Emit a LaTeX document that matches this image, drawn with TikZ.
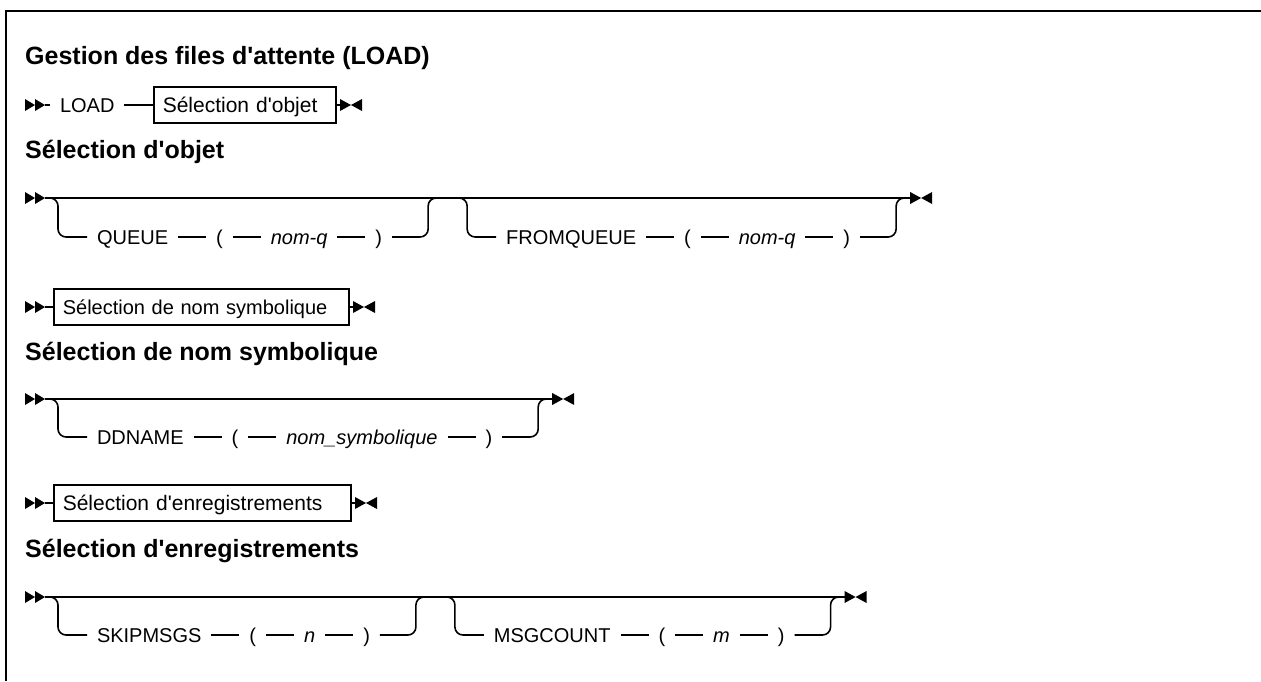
\documentclass[tikz,border=0pt]{standalone}
\usepackage{fontspec}
\setmainfont{Liberation Sans}
\usetikzlibrary{positioning,calc}
\newcommand\sq{\textquotesingle}
\begin{document}
\begin{tikzpicture}[x=1pt,y=-1pt,
  line/.style={line width=1.6pt},
  txt/.style={inner sep=0pt, outer xsep=10pt, outer ysep=0pt, text height=14.3pt, text depth=0pt, font=\fontsize{20}{24}\selectfont},
  var/.style={txt, font=\fontsize{20}{24}\selectfont\itshape},
  ttl/.style={anchor=base west, inner sep=0pt, font=\fontsize{25}{30}\selectfont\bfseries},
  refbox/.style={draw, line width=1.6pt, anchor=west, inner xsep=9pt, inner ysep=0pt, minimum height=36pt, align=left, text height=15pt, text depth=0pt, font=\fontsize{21}{25}\selectfont},
  startsym/.pic={\fill (0,-6) -- (10,0) -- (0,6) -- cycle; \fill (10,-6) -- (20,0) -- (10,6) -- cycle;},
  endsym/.pic={\fill (0,-6) -- (11,0) -- (0,6) -- cycle; \fill (22,-6) -- (11,0) -- (22,6) -- cycle;},
  branchin/.style={line, rounded corners=8pt},
]
\useasboundingbox (0,0) rectangle (1261,681);
\draw[line width=2.5pt] (6,681) -- (6,11) -- (1261,11);

% ---------- Title 1 ----------
\node[ttl] (t1) at (25,64) {Gestion des files d\sq attente (LOAD)};
\pic at (25,105) {startsym};
\coordinate (s1) at (45,105);
\node[txt, anchor=west] (load) at (50,105) {LOAD};
\node[refbox, text width=164pt] (box1) at (153,105) {\mbox{Sélection d\sq objet}};
\coordinate (e1) at (340,105);
\pic at (e1) {endsym};
\draw[line] (s1) -- (load.west);
\draw[line] (load.east) -- (box1.west);
\draw[line] (box1.east) -- (e1);

% ---------- Title 2 ----------
\node[ttl] (t2) at (25,158) {Sélection d\sq objet};
\pic at (25,198) {startsym};
\coordinate (s2) at (45,198);
\coordinate (b2a) at (58,237);
\node[txt, anchor=west] (queue) at (87,237) {QUEUE};
\node[txt, right=28pt of queue] (lp1) {(};
\node[var, right=28pt of lp1] (nq1) {nom-q};
\node[txt, right=28pt of nq1] (rp1) {)};
\coordinate (r2a) at ($(rp1.east)+(36,0)$);
\coordinate (b2b) at ($(r2a)+(39,0)$);
\node[txt, anchor=west] (fromq) at ($(b2b)+(29,0)$) {FROMQUEUE};
\node[txt, right=28pt of fromq] (lp2) {(};
\node[var, right=28pt of lp2] (nq2) {nom-q};
\node[txt, right=28pt of nq2] (rp2) {)};
\coordinate (r2b) at ($(rp2.east)+(36,0)$);
\coordinate (e2) at ($(r2b |- s2)+(14,0)$);
\pic at (e2) {endsym};
\draw[line] (s2) -- (e2);
\draw[branchin] ($(b2a |- s2)+(-10,0)$) -- (b2a |- s2) -- (b2a) -- (queue.west);
\draw[line] (queue.east) -- (lp1.west) (lp1.east) -- (nq1.west) (nq1.east) -- (rp1.west);
\draw[branchin] (rp1.east) -- (r2a) -- (r2a |- s2) -- ($(r2a |- s2)+(10,0)$);
\draw[branchin] ($(b2b |- s2)+(-10,0)$) -- (b2b |- s2) -- (b2b) -- (fromq.west);
\draw[line] (fromq.east) -- (lp2.west) (lp2.east) -- (nq2.west) (nq2.east) -- (rp2.west);
\draw[branchin] (rp2.east) -- (r2b) -- (r2b |- s2) -- ($(r2b |- s2)+(10,0)$);

% ---------- Row 3 ----------
\pic at (25,307) {startsym};
\coordinate (s3) at (45,307);
\node[refbox, text width=277pt, font=\fontsize{20}{24}\selectfont] (box2) at (53,307) {\mbox{Sélection de nom symbolique}};
\coordinate (e3) at (353,307);
\pic at (e3) {endsym};
\draw[line] (s3) -- (box2.west);
\draw[line] (box2.east) -- (e3);

% ---------- Title 3 ----------
\node[ttl] (t3) at (25,360) {Sélection de nom symbolique};
\pic at (25,399) {startsym};
\coordinate (s4) at (45,399);
\coordinate (b4a) at (58,437);
\node[txt, anchor=west] (ddn) at (87,437) {DDNAME};
\node[txt, right=28pt of ddn] (lp3) {(};
\node[var, right=28pt of lp3] (nsym) {nom\_symbolique\hspace{6pt}};
\node[txt, right=28pt of nsym] (rp3) {)};
\coordinate (r4a) at ($(rp3.east)+(36,0)$);
\coordinate (e4) at ($(r4a |- s4)+(14,0)$);
\pic at (e4) {endsym};
\draw[line] (s4) -- (e4);
\draw[branchin] ($(b4a |- s4)+(-10,0)$) -- (b4a |- s4) -- (b4a) -- (ddn.west);
\draw[line] (ddn.east) -- (lp3.west) (lp3.east) -- (nsym.west) (nsym.east) -- (rp3.west);
\draw[branchin] (rp3.east) -- (r4a) -- (r4a |- s4) -- ($(r4a |- s4)+(10,0)$);

% ---------- Row 5 ----------
\pic at (25,503) {startsym};
\coordinate (s5) at (45,503);
\node[refbox, text width=279pt] (box3) at (53,503) {\mbox{Sélection d\sq enregistrements}};
\coordinate (e5) at (355,503);
\pic at (e5) {endsym};
\draw[line] (s5) -- (box3.west);
\draw[line] (box3.east) -- (e5);

% ---------- Title 4 ----------
\node[ttl] (t4) at (25,557) {Sélection d\sq enregistrements};
\pic at (25,597) {startsym};
\coordinate (s6) at (45,597);
\coordinate (b6a) at (58,635);
\node[txt, anchor=west] (skip) at (87,635) {SKIPMSGS};
\node[txt, right=28pt of skip] (lp4) {(};
\node[var, right=28pt of lp4] (nn) {n};
\node[txt, right=28pt of nn] (rp4) {)};
\coordinate (r6a) at ($(rp4.east)+(36,0)$);
\coordinate (b6b) at ($(r6a)+(39,0)$);
\node[txt, anchor=west] (msgc) at ($(b6b)+(29,0)$) {MSGCOUNT};
\node[txt, right=28pt of msgc] (lp5) {(};
\node[var, right=28pt of lp5] (mm) {m};
\node[txt, right=28pt of mm] (rp5) {)};
\coordinate (r6b) at ($(rp5.east)+(36,0)$);
\coordinate (e6) at ($(r6b |- s6)+(14,0)$);
\pic at (e6) {endsym};
\draw[line] (s6) -- (e6);
\draw[branchin] ($(b6a |- s6)+(-10,0)$) -- (b6a |- s6) -- (b6a) -- (skip.west);
\draw[line] (skip.east) -- (lp4.west) (lp4.east) -- (nn.west) (nn.east) -- (rp4.west);
\draw[branchin] (rp4.east) -- (r6a) -- (r6a |- s6) -- ($(r6a |- s6)+(10,0)$);
\draw[branchin] ($(b6b |- s6)+(-10,0)$) -- (b6b |- s6) -- (b6b) -- (msgc.west);
\draw[line] (msgc.east) -- (lp5.west) (lp5.east) -- (mm.west) (mm.east) -- (rp5.west);
\draw[branchin] (rp5.east) -- (r6b) -- (r6b |- s6) -- ($(r6b |- s6)+(10,0)$);
\end{tikzpicture}
\end{document}
